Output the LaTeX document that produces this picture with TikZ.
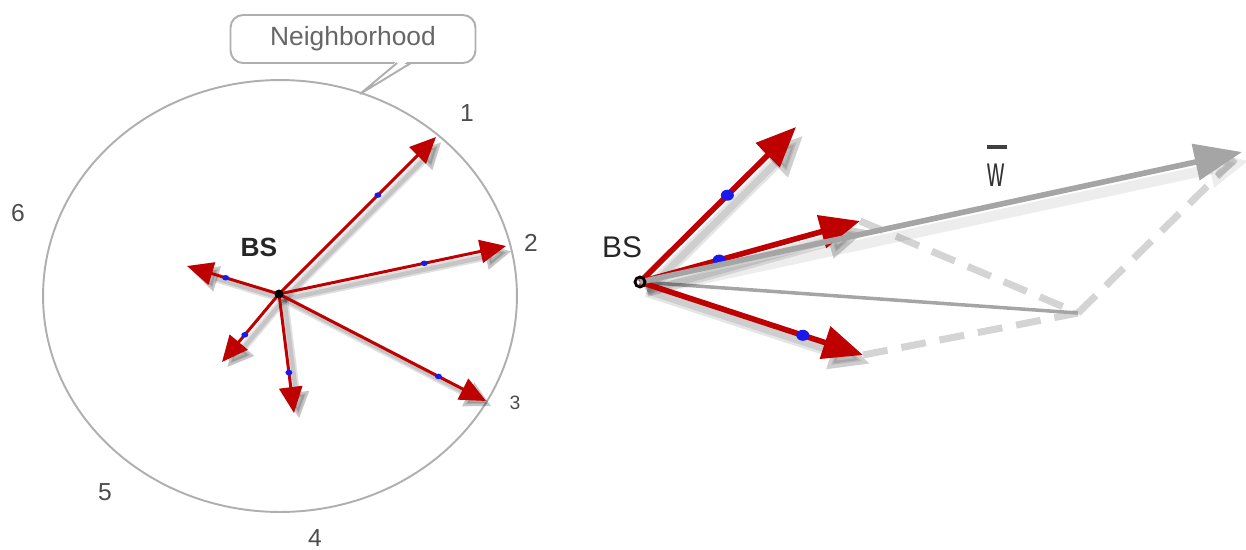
\documentclass[tikz,border=0pt]{standalone}
\usepackage{fontspec}
\setmainfont{Liberation Sans}
\usetikzlibrary{arrows.meta,positioning,shapes.geometric}
\definecolor{rayred}{RGB}{190,0,0}
\definecolor{dotblue}{RGB}{25,25,235}
\definecolor{rimgray}{RGB}{175,175,175}
\definecolor{sumgray}{RGB}{165,165,165}
\definecolor{dashgray}{RGB}{212,212,212}

\begin{document}
\begin{tikzpicture}[x=0.02cm,y=-0.02cm,>=Latex,
  ray/.style={draw=rayred,line width=1.7pt,-{Triangle[length=0.52cm,width=0.46cm]}},
  bigray/.style={draw=rayred,line width=3.2pt,-{Triangle[length=0.8cm,width=0.66cm]}},
  raysh/.style={draw=black,opacity=.12,line width=#1,-{Triangle[length=0.52cm,width=0.5cm]},
                transform canvas={shift={(3pt,-3pt)}}},
  bigsh/.style={draw=black,opacity=.1,line width=#1,-{Triangle[length=0.8cm,width=0.7cm]},
                transform canvas={shift={(4pt,-5pt)}}},
  dot/.style={fill=dotblue,ellipse,inner sep=0pt,minimum width=0.14cm,minimum height=0.11cm},
  bigdot/.style={fill=dotblue,ellipse,inner sep=0pt,minimum width=0.26cm,minimum height=0.22cm},
  num/.style={font=\fontsize{14}{16}\selectfont,text=black!70},
  sumline/.style={draw=sumgray,line width=3.2pt},
  dashline/.style={draw=dashgray,line width=4pt,dash pattern=on 0.5cm off 0.28cm}]
  \useasboundingbox (0,0) rectangle (1246,549);
  % neighbourhood of the base station
  \coordinate (ctr) at (280,296);
  \draw[rimgray,line width=1.1pt] (ctr) ellipse [x radius=4.74cm,y radius=4.32cm];
  \node[draw=rimgray,line width=1.1pt,rounded corners=2.5mm,minimum width=4.9cm,minimum height=0.96cm,
        fill=white,text=black!60,font=\fontsize{15}{17}\selectfont] (nbh) at (353,39) {Neighborhood};
  \coordinate (pa) at (397,63);
  \coordinate (pb) at (411,63);
  \coordinate (ptip) at (360,94);
  \fill[white] (398,60) -- (410,60) -- (ptip) -- cycle;
  \draw[rimgray,line width=1.1pt] (pa) -- (ptip) -- (pb);
  \node[num] (n1) at (467,113) {1};
  \node[num] (n2) at (531,243) {2};
  \node[num,font=\fontsize{11}{13}\selectfont] (n3) at (515,403) {3};
  \node[num] (n4) at (315,538) {4};
  \node[num] (n5) at (105,492) {5};
  \node[num] (n6) at (18,213) {6};
  % left: base station and its rays
  \coordinate (bs) at (279,294);
  \coordinate (t1) at (436,137);
  \coordinate (t2) at (506,246);
  \coordinate (t3) at (486,401);
  \coordinate (t4) at (187,266);
  \coordinate (t5) at (222,362);
  \coordinate (t6) at (294,413);
  \foreach \t/\p in {t1/0.63,t2/0.64,t3/0.77,t4/0.58,t5/0.6,t6/0.66} {
    \draw[raysh=4.5pt] (bs) -- (\t);
    \draw[raysh=2.5pt] (bs) -- (\t);
    \draw[ray] (bs) -- node[dot,pos=\p] {} (\t);
  }
  \fill (bs) circle [radius=0.09cm];
  \node[font=\bfseries\fontsize{15}{17}\selectfont,text=black!85] (bsl) at (259,247) {BS};
  % right: vector sum
  \coordinate (bs2) at (640,282);
  \coordinate (u1) at (796,127);
  \coordinate (u2) at (860,221);
  \coordinate (u3) at (863,355);
  \coordinate (corner) at (1078,313);
  \coordinate (wtip) at (1242,152);
  \draw[dashline] (u2) -- (corner);
  \draw[dashline] (u3) -- (corner);
  \draw[dashline] (corner) -- (wtip);
  \draw[sumline,line width=2pt] (bs2) -- (corner);
  \foreach \u in {u1,u2,u3} {
    \draw[bigsh=7pt] (bs2) -- (\u);
    \draw[bigsh=4pt] (bs2) -- (\u);
  }
  \draw[bigsh=6pt,opacity=.07] (bs2) -- (wtip);
  \draw[bigray] (bs2) -- node[bigdot,pos=0.56] {} (u1);
  \draw[bigray] (bs2) -- node[bigdot,pos=0.36] {} (u2);
  \draw[bigray] (bs2) -- node[bigdot,pos=0.73] {} (u3);
  \draw[sumline,-{Triangle[length=0.95cm,width=0.72cm]}] (bs2) -- (wtip);
  \draw[line width=1.6pt] (bs2) circle [radius=0.1cm];
  \node[font=\fontsize{17}{19}\selectfont,text=black!85] (bsr) at (622,247) {BS};
  \node[font=\fontsize{18}{20}\selectfont,text=black!80,xscale=0.75,yscale=1.35,inner sep=0pt] (wbar) at (996,175) {w};
  \draw[black!75,line width=2.2pt] (987,147) -- (1007,147);
\end{tikzpicture}
\end{document}
